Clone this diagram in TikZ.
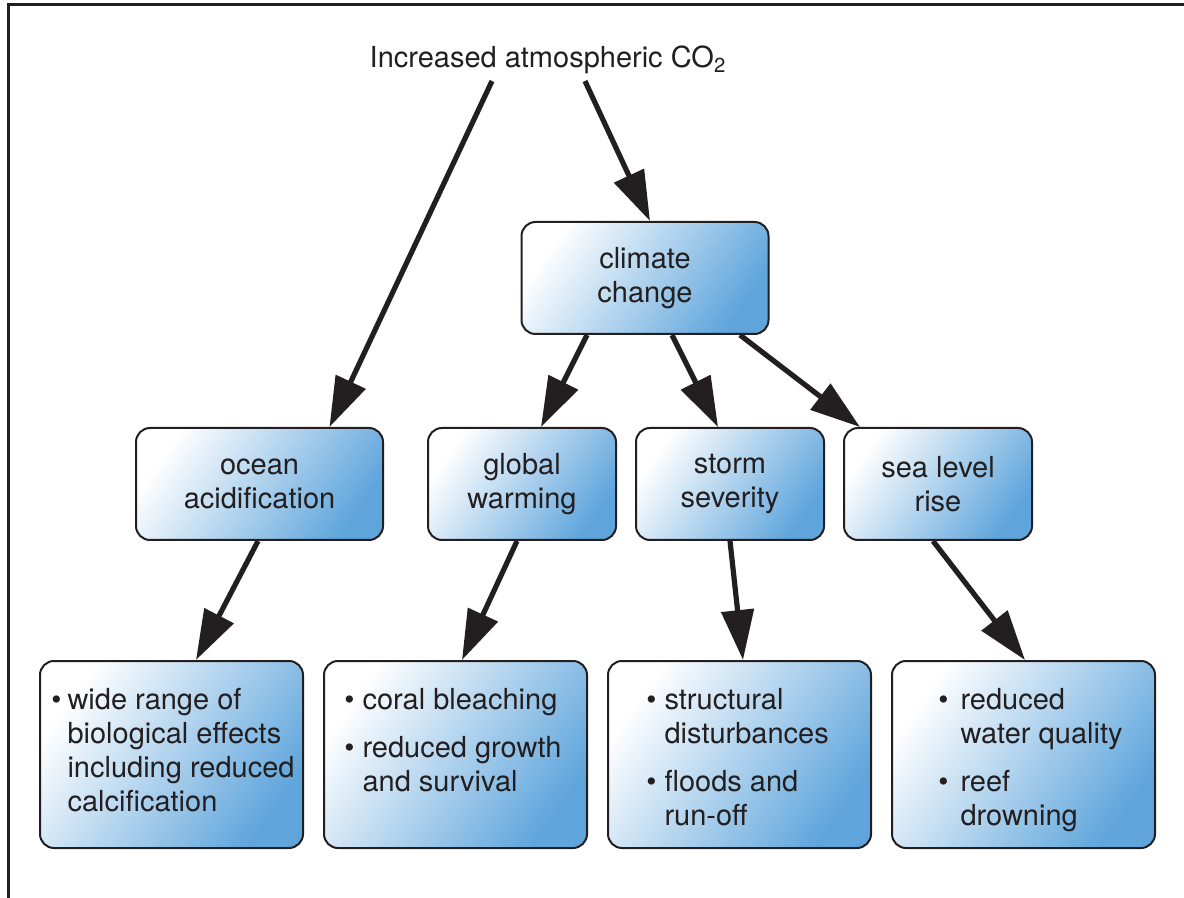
\documentclass[tikz,border=0pt]{standalone}
\usepackage{fontspec}
\setmainfont{TeX Gyre Heros}
\usetikzlibrary{arrows.meta,calc}
\definecolor{boxblue}{RGB}{95,165,220}
\definecolor{ink}{RGB}{35,31,32}
\newcommand{\blt}{\textbullet}
\begin{document}
\begin{tikzpicture}[x=0.5pt,y=-0.5pt,
  font=\fontsize{14.5}{17}\selectfont, text=ink,
  box/.style={draw=ink, line width=1pt, rounded corners=7pt, top color=white, bottom color=boxblue, shading angle=55, align=center},
  cause/.style={box, minimum width=94pt, minimum height=56pt},
  effect/.style={box, minimum width=131.5pt, minimum height=93.5pt},
  txt/.style={anchor=north west, inner sep=0pt, align=left},
  arr/.style={-{Triangle[length=25pt,width=16pt]}, line width=2.6pt, draw=ink}]
\useasboundingbox (0,0) rectangle (1184,898);
% frame
\draw[line width=1.5pt, ink] (1184,5) -- (8,5) -- (8,898);
% top
\node (co2) at (548,60) {Increased atmospheric CO\textsubscript{2}};
\node[box, minimum width=123.5pt, minimum height=56pt] (cc) at (645,278) {climate\\change};
% middle row
\node[box, minimum width=123.5pt, minimum height=56pt] (oa) at (259.5,484) {ocean\\acidification};
\node[cause] (gw) at (522,484) {global\\warming};
\node[cause] (ss) at (730,484) {storm\\severity};
\node[cause] (sl) at (938,484) {sea level\\rise};
% bottom row
\node[effect] (e1) at (171.5,754.5) {};
\node[effect] (e2) at (455.5,754.5) {};
\node[effect] (e3) at (739.5,754.5) {};
\node[effect] (e4) at (1023.5,754.5) {};
\node[txt] (t1) at ($(e1.north west)+(12,25)$) {\begin{tabular}{@{}l@{\hspace{3pt}}l@{}}
\blt & wide range of\\ & biological effects\\ & including reduced\\ & calcification\end{tabular}};
\node[txt] (t2) at ($(e2.north west)+(21,25)$) {\begin{tabular}{@{}l@{\hspace{4pt}}l@{}}
\blt & coral bleaching\\[7pt] \blt & reduced growth\\ & and survival\end{tabular}};
\node[txt] (t3) at ($(e3.north west)+(39,25)$) {\begin{tabular}{@{}l@{\hspace{4pt}}l@{}}
\blt & structural\\ & disturbances\\[7pt] \blt & floods and\\ & run-off\end{tabular}};
\node[txt] (t4) at ($(e4.north west)+(47,25)$) {\begin{tabular}{@{}l@{\hspace{6pt}}l@{}}
\blt & reduced\\ & water quality\\[7pt] \blt & reef\\ & drowning\end{tabular}};
% arrows
\draw[arr] ($(co2.south)+(-56,0)$) -- ($(oa.north)+(70,0)$);
\draw[arr] ($(co2.south)+(37,0)$) -- ($(cc.north)+(5,0)$);
\draw[arr] ($(cc.south)+(-58,0)$) -- ($(gw.north)+(19,0)$);
\draw[arr] ($(cc.south)+(27,0)$) -- ($(ss.north)+(-12,0)$);
\draw[arr] ($(cc.south)+(95,0)$) -- ($(sl.north)+(-78,0)$);
\draw[arr] ($(oa.south)+(-1.5,0)$) -- ($(e1.north)+(24.5,0)$);
\draw[arr] ($(gw.south)+(-5,0)$) -- ($(e2.north)+(6.5,0)$);
\draw[arr] (ss.south) -- ($(e3.north)+(3.5,0)$);
\draw[arr] ($(sl.south)+(-5,0)$) -- ($(e4.north)+(1.5,0)$);
\end{tikzpicture}
\end{document}
